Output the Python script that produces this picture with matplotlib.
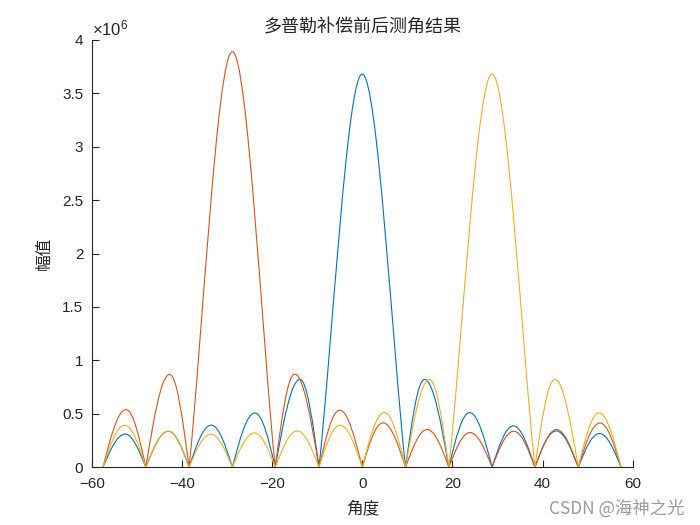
import matplotlib
matplotlib.use('Agg')
import matplotlib.pyplot as plt
from matplotlib.path import Path
from matplotlib.patches import PathPatch
from matplotlib.ticker import FuncFormatter

plt.rcParams['font.family'] = ['Liberation Sans', 'Noto Sans CJK SC']
plt.rcParams['mathtext.fontset'] = 'custom'
plt.rcParams['mathtext.rm'] = 'Liberation Sans'
plt.rcParams['mathtext.it'] = 'Liberation Sans'

# 零点位置 (度), 三条曲线共用
nulls = [-57.5, -48.0, -38.4, -28.8, -19.3, -9.6, 0.0, 9.6, 19.2, 28.8, 38.3, 47.9, 57.4]

# 补偿后 (蓝), 主瓣在 0 度
blue_center = 0.0
blue_peak_x = [-52.6, -43.0, -33.5, -23.8, -13.8, 0.0, 13.8, 23.8, 33.5, 43.0, 52.6]
blue_peak_y = [0.31e6, 0.337e6, 0.394e6, 0.509e6, 0.822e6, 3.68e6,
               0.822e6, 0.512e6, 0.387e6, 0.34e6, 0.316e6]

# 红, 主瓣在 -28.8 度
red_center = -28.8
red_peak_x = [-52.4, -42.7, -28.8, -15.0, -5.0, 4.6, 14.4, 23.9, 33.6, 43.1, 52.7]
red_peak_y = [0.54e6, 0.869e6, 3.89e6, 0.872e6, 0.534e6, 0.415e6,
              0.353e6, 0.325e6, 0.337e6, 0.353e6, 0.415e6]

# 黄, 主瓣在 28.8 度
yellow_center = 28.8
yellow_peak_x = [-52.7, -43.0, -33.6, -23.9, -14.4, -4.9, 4.9, 14.9, 28.8, 42.7, 52.5]
yellow_peak_y = [0.394e6, 0.337e6, 0.309e6, 0.321e6, 0.34e6, 0.394e6,
                 0.512e6, 0.822e6, 3.68e6, 0.822e6, 0.509e6]

colors = ['#0072BD', '#D95319', '#EDB120']


def lobe_path(center, peak_x, peak_y):
    # 每个瓣用两段三次贝塞尔曲线连接 零点-峰值-零点
    edges = [n for n in nulls if abs(n - center) > 1]
    verts = [(edges[0], 0)]
    codes = [Path.MOVETO]
    for i in range(len(peak_x)):
        a, b = edges[i], edges[i + 1]
        p, h = peak_x[i], peak_y[i]
        if abs(p - center) < 1:
            # 主瓣 (sinc 形)
            seg = [(p - 0.7 * (p - a), 0.3 * h), (p - 0.35 * (p - a), h), (p, h),
                   (p + 0.35 * (b - p), h), (p + 0.7 * (b - p), 0.3 * h), (b, 0)]
        else:
            seg = [(a + 0.3261 * (p - a), 0.5123 * h), (a + 0.6381 * (p - a), h), (p, h),
                   (b - 0.6381 * (b - p), h), (b - 0.3261 * (b - p), 0.5123 * h), (b, 0)]
        verts += seg
        codes += [Path.CURVE4] * 6
    return Path(verts, codes)


fig = plt.figure(figsize=(7, 5.25), dpi=100)
ax = fig.add_axes([0.131, 0.11, 0.773, 0.814])

curves = [(blue_center, blue_peak_x, blue_peak_y),
          (red_center, red_peak_x, red_peak_y),
          (yellow_center, yellow_peak_x, yellow_peak_y)]
for k, (c, px, py) in enumerate(curves):
    ax.add_patch(PathPatch(lobe_path(c, px, py), fill=False, edgecolor=colors[k],
                           linewidth=0.8, zorder=2 + k))

ax.set_xlim(-60, 60)
ax.set_ylim(0, 4e6)
ax.set_xticks(range(-60, 61, 20))
ax.set_yticks([i * 0.5e6 for i in range(9)])
ax.yaxis.set_major_formatter(FuncFormatter(lambda v, pos: '%g' % (v / 1e6)))

for s in ['top', 'right']:
    ax.spines[s].set_visible(False)
for s in ['left', 'bottom']:
    ax.spines[s].set_color('#262626')
    ax.spines[s].set_linewidth(0.8)
ax.tick_params(direction='in', length=5, width=0.8, colors='#262626', labelsize=11)
ax.tick_params(axis='x', pad=7)
ax.tick_params(axis='y', pad=6)

ax.text(0.0, 1.004, '×10$^{6}$', transform=ax.transAxes, fontsize=12,
        color='#262626', ha='left', va='bottom')

ax.set_title('多普勒补偿前后测角结果', fontsize=13, color='#262626', pad=5,
             family=['Noto Sans CJK SC'])
ax.set_xlabel('角度', fontsize=12, color='#262626', family=['Noto Sans CJK SC'])
ax.set_ylabel('幅值', fontsize=12, color='#262626', family=['Noto Sans CJK SC'])
ax.xaxis.set_label_coords(0.5, -0.098)
ax.xaxis.label.set_verticalalignment('center')
ax.yaxis.set_label_coords(-0.088, 0.5)
ax.yaxis.label.set_verticalalignment('center')

fig.text(0.978, 0.032, 'CSDN @海神之光', fontsize=12.5, color='#9a9a9a',
         ha='right', va='center', family=['Noto Sans CJK SC', 'DejaVu Sans'])

fig.savefig('out.png', dpi=100)
